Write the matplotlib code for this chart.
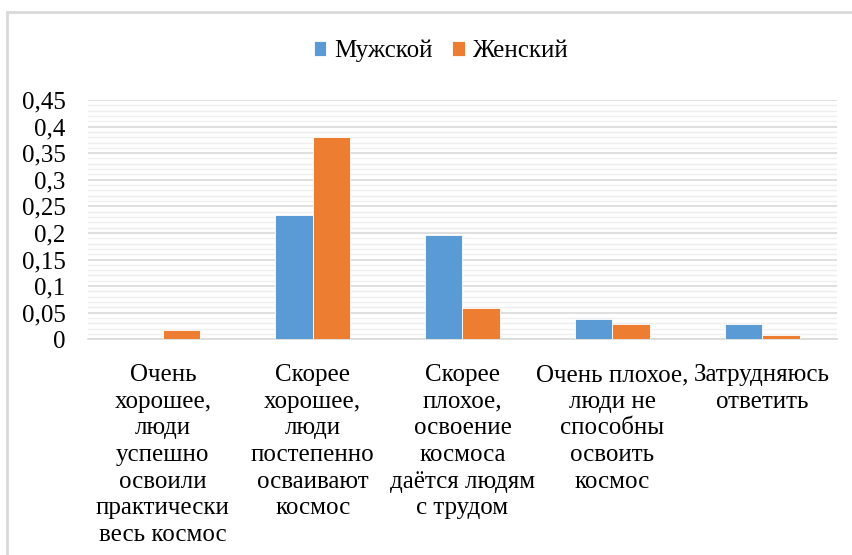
import matplotlib
matplotlib.use("Agg")
import matplotlib.pyplot as plt
import numpy as np
from matplotlib.ticker import FuncFormatter, MultipleLocator
from matplotlib.patches import Rectangle

categories = [
    "Очень\nхорошее,\nлюди\nуспешно\nосвоили\nпрактически\nвесь космос",
    "Скорее\nхорошее,\nлюди\nпостепенно\nосваивают\nкосмос",
    "Скорее\nплохое,\nосвоение\nкосмоса\nдаётся людям\nс трудом",
    "Очень плохое,\nлюди не\nспособны\nосвоить\nкосмос",
    "Затрудняюсь\nответить",
]
series_names = ["Мужской", "Женский"]
male = [0.0, 0.234, 0.196, 0.039, 0.029]
female = [0.018, 0.381, 0.058, 0.029, 0.0075]
yticks = [0, 0.05, 0.1, 0.15, 0.2, 0.25, 0.3, 0.35, 0.4, 0.45]

plt.rcParams['font.family'] = ['Liberation Serif', 'DejaVu Serif']

W, H = 853, 555
fig = plt.figure(figsize=(W / 100, H / 100), dpi=100)
fig.patch.set_facecolor("white")

# outer chart frame (top and left visible)
fig.add_artist(Rectangle((7 / W, -0.1), 1.2, 1 - 12 / H + 0.1, transform=fig.transFigure,
                         fill=False, edgecolor="#d9d9d9", linewidth=2))

ax = fig.add_axes([88 / W, 1 - 339.3 / H, (837 - 88) / W, (339.3 - 100) / H])
x = np.arange(len(categories))
w = 0.25
b1 = ax.bar(x - w / 2, male, w, color="#5B9BD5", edgecolor="white", linewidth=0.6, label=series_names[0], zorder=3)
b2 = ax.bar(x + w / 2, female, w, color="#ED7D31", edgecolor="white", linewidth=0.6, label=series_names[1], zorder=3)

ax.set_xlim(-0.5, len(categories) - 0.5)
ax.set_ylim(0, 0.45)
ax.set_yticks(yticks)
ax.yaxis.set_minor_locator(MultipleLocator(0.01))
ax.yaxis.set_major_formatter(FuncFormatter(lambda v, p: f"{v:g}".replace('.', ',')))
ax.grid(axis="y", which="major", color="#d9d9d9", linewidth=1.2, zorder=0)
ax.grid(axis="y", which="minor", color="#efefef", linewidth=1.0, zorder=0)
ax.set_axisbelow(True)
for s in ["top", "right", "left"]:
    ax.spines[s].set_visible(False)
ax.spines["bottom"].set_color("#d9d9d9")
ax.spines["bottom"].set_linewidth(1.2)
ax.tick_params(axis="both", which="both", length=0, labelsize=18, colors="black")
ax.tick_params(axis="y", pad=16)
ax.tick_params(axis="x", pad=18)
ax.set_xticks(x)
ax.set_xticklabels(categories, linespacing=1.27, ha="center", va="top")

fig.legend(handles=[b1, b2], labels=series_names, loc="center", bbox_to_anchor=(441 / W, 1 - 51 / H),
           ncol=2, frameon=False, fontsize=18, handlelength=0.5, handleheight=0.5,
           handletextpad=0.3, columnspacing=0.8)

fig.savefig("out.png", dpi=100)
